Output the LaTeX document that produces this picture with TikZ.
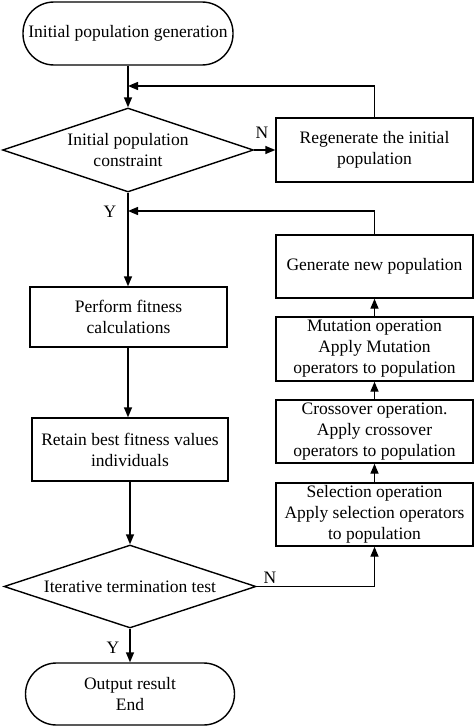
\documentclass[tikz,border=0pt]{standalone}
\usepackage{fontspec}
\setmainfont{Liberation Serif}
\usetikzlibrary{shapes.geometric,arrows.meta}
\begin{document}
\begin{tikzpicture}[x=1pt,y=-1pt,
  every node/.style={font=\fontsize{17.5}{21}\selectfont},
  line/.style={line width=1.4pt},
  arr/.style={line width=1.4pt,-{Triangle[length=10pt,width=8pt]}},
  box/.style={draw,line width=1.4pt,rectangle,inner sep=0pt,align=center,minimum width=197pt},
  term/.style={draw,line width=1.4pt,rectangle,inner sep=0pt,align=center,rounded corners=31pt},
  dia/.style={draw,line width=1.4pt,diamond,inner sep=0pt,aspect=3},
  yn/.style={inner sep=0pt}]
\useasboundingbox (0,0) rectangle (474,728);
% left column
\node[term,minimum width=210pt,minimum height=63pt] (start) at (128,33.5) {Initial population generation};
\node[dia,minimum width=251pt,minimum height=84pt,label={[align=center,font=\fontsize{17.5}{21}\selectfont]center:Initial population\\constraint}] (d1) at (128,150) {};
\node[box,minimum height=64pt] (regen) at (374.5,150) {Regenerate the initial\\population};
\node[box,minimum height=60pt] (perform) at (128.5,317) {Perform fitness\\calculations};
\node[box,minimum width=196pt,minimum height=63pt] (retain) at (130,449.5) {Retain best fitness values\\individuals};
\node[dia,minimum width=252pt,minimum height=83pt,label={[font=\fontsize{17.5}{21}\selectfont]center:Iterative termination test}] (d2) at (130,586.5) {};
\node[term,minimum width=209pt,minimum height=62pt] (end) at (130,694) {Output result\\End};
% right column
\node[box,minimum height=63pt] (gen) at (374.5,266.5) {Generate new population};
\node[box,minimum height=64pt] (mut) at (374.5,349) {Mutation operation\\Apply Mutation\\operators to population};
\node[box,minimum height=63pt] (cross) at (374.5,431.5) {Crossover operation.\\Apply crossover\\operators to population};
\node[box,minimum height=63pt] (sel) at (374.5,514.5) {Selection operation\\Apply selection operators\\to population};
% coordinates
\coordinate (fb1) at (128,86);
\coordinate (fb2) at (128,211);
% connectors
\draw[arr] (start.south) -- (d1.north);
\draw[arr] (regen.north) |- (fb1);
\draw[arr] (d1.east) -- (regen.west);
\draw[line] (d1.south) -- (fb2);
\draw[arr] (fb2) -- (perform.north -| fb2);
\draw[arr] (gen.north) |- (fb2);
\draw[arr] (perform.south -| fb2) -- (fb2 |- retain.north);
\draw[arr] (retain.south) -- (d2.north);
\draw[arr] (d2.south) -- (end.north);
\draw[arr] (d2.east) -| (sel.south);
\draw[arr] (sel.north) -- (cross.south);
\draw[arr] (cross.north) -- (mut.south);
\draw[arr] (mut.north) -- (gen.south);
% labels
\node[yn] (n1) at (262,133) {N};
\node[yn] (y1) at (110,212) {Y};
\node[yn] (n2) at (270,578) {N};
\node[yn] (y2) at (113,648) {Y};
\end{tikzpicture}
\end{document}
